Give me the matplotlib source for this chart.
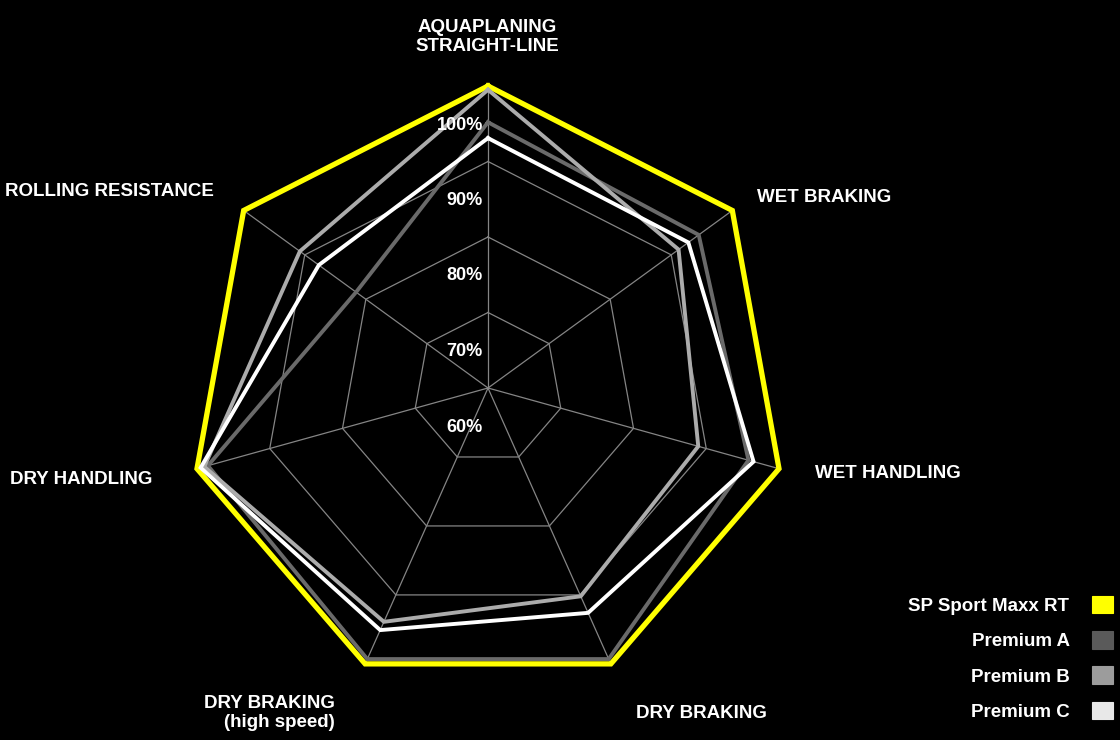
import numpy as np
import matplotlib

matplotlib.use("Agg")
import matplotlib.pyplot as plt
from matplotlib import transforms
from matplotlib.patches import Patch

plt.rcParams["font.family"] = ["Liberation Sans", "DejaVu Sans"]
plt.rcParams["font.weight"] = "bold"

# %% data (percent of SP Sport Maxx RT)
categories = [
    "AQUAPLANING\nSTRAIGHT-LINE",
    "WET BRAKING",
    "WET HANDLING",
    "DRY BRAKING",
    "DRY BRAKING\n(high speed)",
    "DRY HANDLING",
    "ROLLING RESISTANCE",
]
series_names = ["SP Sport Maxx RT", "Premium A", "Premium B", "Premium C"]
sp_sport_maxx = [100, 100, 100, 100, 100, 100, 100]
premium_a = [95.2, 94.5, 95.8, 99.3, 99.3, 98.5, 81.6]
premium_b = [99.5, 91.2, 88.9, 90.2, 93.9, 99.0, 90.8]
premium_c = [93.1, 92.8, 96.5, 92.6, 95.1, 99.5, 87.7]
ring_ticks = [60, 70, 80, 90, 100]
ring_labels = ["60%", "70%", "80%", "90%", "100%"]

# %% layout / style
W, H = 1120, 740
spoke_deg = [0, 54, 105.5, 156, 204, 254.5, 306]  # clockwise from top
center_px = (488, 388)
radius_px = 302
line_colors = ["#ffff00", "#6a6a6a", "#acacac", "#ffffff"]
swatch_colors = ["#ffff00", "#5a5a5a", "#9c9c9c", "#e8e8e8"]
grid_color = "#858585"


def px(x, y):
    return x / W, 1 - y / H


fig = plt.figure(figsize=(W / 100, H / 100), dpi=100, facecolor="black")
ax = fig.add_axes(
    [
        (center_px[0] - radius_px) / W,
        (H - center_px[1] - radius_px) / H,
        2 * radius_px / W,
        2 * radius_px / H,
    ],
    projection="polar",
)
ax.set_theta_zero_location("N")
ax.set_theta_direction(-1)
ax.set_ylim(ring_ticks[0], ring_ticks[-1])
ax.axis("off")

theta = np.deg2rad(spoke_deg)
theta_closed = np.append(theta, theta[0])


def closed(vals):
    return list(vals) + [vals[0]]


# grid: heptagon rings and spokes
for v in ring_ticks[1:]:
    ax.plot(theta_closed, [v] * len(theta_closed), color=grid_color, lw=0.9,
            zorder=1, clip_on=False)
for t in theta:
    ax.plot([t, t], [ring_ticks[0], ring_ticks[-1]], color=grid_color, lw=0.9,
            zorder=1, clip_on=False)

# series
all_series = [sp_sport_maxx, premium_a, premium_b, premium_c]
widths = [3.8, 2.8, 2.8, 2.8]
for i, (vals, c, lw) in enumerate(zip(all_series, line_colors, widths)):
    ax.plot(theta_closed, closed(vals), color=c, lw=lw, zorder=3 + i,
            solid_joinstyle="miter", clip_on=False)

# ring labels, set below each ring on the top spoke
lab_trans = transforms.offset_copy(ax.transData, fig=fig, x=-5, y=-39, units="dots")
for v, s in zip(ring_ticks, ring_labels):
    ax.text(0, v, s, transform=lab_trans, ha="right", va="center",
            color="white", fontsize=13, zorder=10)

# category labels
label_pos = [
    (487, 37, "center"),
    (757, 198, "left"),
    (815, 474, "left"),
    (636, 714, "left"),
    (335, 713, "right"),
    (10, 480, "left"),
    (5, 192, "left"),
]
for name, (x, y, ha) in zip(categories, label_pos):
    fig.text(*px(x, y), name, ha=ha, va="center", color="white", fontsize=13.5,
             linespacing=1.2, multialignment=ha)

# legend: text on the left, swatch on the right
handles = [Patch(facecolor=c, edgecolor=c, lw=0.8) for c in swatch_colors]
fig.legend(
    handles,
    series_names,
    loc="lower right",
    bbox_to_anchor=px(1113, 721),
    frameon=False,
    markerfirst=False,
    labelcolor="white",
    prop={"size": 13.5, "weight": "bold"},
    handlelength=1.12,
    handleheight=1.07,
    handletextpad=1.2,
    labelspacing=0.86,
    borderpad=0,
    borderaxespad=0,
)

fig.savefig("out.png", dpi=100, facecolor="black")
